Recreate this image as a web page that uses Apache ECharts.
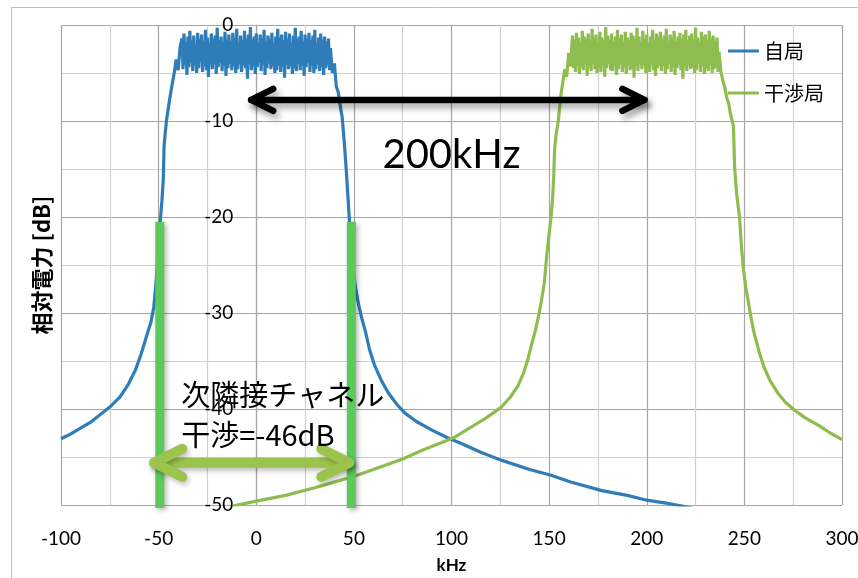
<!DOCTYPE html>
<html>
<head>
<meta charset="utf-8">
<script src="https://cdn.jsdelivr.net/npm/echarts@6/dist/echarts.min.js"></script>
<style>
  html, body { margin: 0; padding: 0; background: #fff; }
  #chart { width: 858px; height: 578px; }
</style>
</head>
<body>
<div id="chart"></div>
<script>
// Spectrum of the own station (自局), frequency in kHz and relative power in dB
const blueFreq = [
  -100, -95, -90, -85, -80, -75, -70, -66, -62, -59,
  -56, -54, -52.5, -51.5, -50.5, -49.7, -49, -48.3, -47.6, -47.2,
  -46.6, -46, -45, -44, -43, -42, -41, -40, -39,
  -38, -37.5, -37, -36.5, -36, -35.5, -35, -34.5, -34, -33.5,
  -33, -32.5, -32, -31.5, -31, -30.5, -30, -29.5, -29, -28.5,
  -28, -27.5, -27, -26.5, -26, -25.5, -25, -24.5, -24, -23.5,
  -23, -22.5, -22, -21.5, -21, -20.5, -20, -19.5, -19, -18.5,
  -18, -17.5, -17, -16.5, -16, -15.5, -15, -14.5, -14, -13.5,
  -13, -12.5, -12, -11.5, -11, -10.5, -10, -9.5, -9, -8.5,
  -8, -7.5, -7, -6.5, -6, -5.5, -5, -4.5, -4, -3.5,
  -3, -2.5, -2, -1.5, -1, -0.5, 0, 0.5, 1, 1.5,
  2, 2.5, 3, 3.5, 4, 4.5, 5, 5.5, 6, 6.5,
  7, 7.5, 8, 8.5, 9, 9.5, 10, 10.5, 11, 11.5,
  12, 12.5, 13, 13.5, 14, 14.5, 15, 15.5, 16, 16.5,
  17, 17.5, 18, 18.5, 19, 19.5, 20, 20.5, 21, 21.5,
  22, 22.5, 23, 23.5, 24, 24.5, 25, 25.5, 26, 26.5,
  27, 27.5, 28, 28.5, 29, 29.5, 30, 30.5, 31, 31.5,
  32, 32.5, 33, 33.5, 34, 34.5, 35, 35.5, 36, 36.5,
  37, 37.5,
  38, 39, 40, 41, 42, 43, 44, 45, 46, 47,
  47.6, 48.3, 49, 50, 51.2, 52.5, 54, 56, 58, 60.5,
  64, 67.6, 72, 76, 82, 90, 98, 105, 115, 125,
  140, 151, 161, 177, 190, 200, 210, 218, 225
];
const blueLevel = [
  -43.1, -42.6, -42.0, -41.4, -40.6, -39.8, -38.8, -37.6, -36.0, -34.3,
  -32.3, -31.0, -29.4, -27.3, -24.5, -21.7, -20.0, -18.3, -16.0, -12.6,
  -11.2, -10.0, -8.6, -7.3, -6.1, -5.0, -3.6, -4.7, -2.3,
  -1.4, -4.6, -0.9, -4.1, -1.8, -5.2, -1.2, -4.4, -0.6, -3.9,
  -1.6, -4.8, -1.1, -4.2, -2.0, -5.0, -0.8, -4.5, -1.5, -3.8,
  -1.0, -4.9, -1.7, -4.3, -0.5, -4.7, -1.3, -5.4, -1.9, -4.0,
  -0.9, -4.6, -1.4, -4.1, -1.1, -5.1, -0.3, -4.4, -1.6, -3.9,
  -1.2, -4.8, -1.8, -4.2, -0.7, -5.3, -1.5, -4.5, -1.0, -4.0,
  -1.7, -4.7, -0.8, -4.3, -1.3, -5.0, -0.4, -4.6, -1.9, -4.1,
  -1.1, -4.9, -1.6, -4.2, -0.6, -4.5, -1.4, -5.6, -1.0, -4.0,
  -0.2, -4.7, -1.5, -4.3, -1.2, -5.1, -0.9, -4.4, -1.8, -3.9,
  -1.0, -4.8, -1.4, -4.1, -0.5, -5.2, -1.7, -4.5, -1.1, -4.0,
  -1.5, -4.6, -0.8, -4.3, -1.9, -5.0, -1.2, -4.7, -0.4, -4.2,
  -1.3, -4.9, -1.0, -4.4, -1.6, -5.5, -0.7, -4.1, -1.4, -4.6,
  -0.9, -4.3, -1.8, -5.1, -1.1, -4.5, -0.3, -4.8, -1.5, -4.0,
  -1.2, -4.7, -0.6, -4.2, -1.7, -5.3, -1.0, -4.4, -1.4, -3.9,
  -0.8, -4.9, -1.6, -4.3, -1.1, -5.0, -0.5, -4.6, -1.9, -4.1,
  -1.3, -4.8, -0.9, -4.4, -1.5, -5.2, -1.2, -4.5, -1.7, -4.2,
  -1.4, -4.7,
  -2.4, -5.0, -4.0, -6.4, -7.0, -8.4, -9.6, -12.0, -14.8, -18.0,
  -20.0, -22.5, -24.3, -26.2, -27.8, -29.2, -30.5, -32.0, -33.8, -35.4,
  -37.0, -38.3, -39.5, -40.4, -41.3, -42.2, -43.0, -43.6, -44.5, -45.3,
  -46.3, -46.9, -47.6, -48.5, -49.0, -49.5, -49.8, -50.1, -50.4
];

// Spectrum of the interfering station (干渉局)
const greenFreq = [
  -12, 0, 15, 30, 48.7, 60, 75, 85, 95, 101,
  110, 118, 125.5, 130, 134, 137, 139, 141, 143, 144.5,
  146, 147.5, 148.8, 150, 151, 151.8, 152.4, 152.8, 153.5, 154.7,
  156, 157, 158, 159, 160, 161,
  162, 162.5, 163, 163.5, 164, 164.5, 165, 165.5, 166, 166.5,
  167, 167.5, 168, 168.5, 169, 169.5, 170, 170.5, 171, 171.5,
  172, 172.5, 173, 173.5, 174, 174.5, 175, 175.5, 176, 176.5,
  177, 177.5, 178, 178.5, 179, 179.5, 180, 180.5, 181, 181.5,
  182, 182.5, 183, 183.5, 184, 184.5, 185, 185.5, 186, 186.5,
  187, 187.5, 188, 188.5, 189, 189.5, 190, 190.5, 191, 191.5,
  192, 192.5, 193, 193.5, 194, 194.5, 195, 195.5, 196, 196.5,
  197, 197.5, 198, 198.5, 199, 199.5, 200, 200.5, 201, 201.5,
  202, 202.5, 203, 203.5, 204, 204.5, 205, 205.5, 206, 206.5,
  207, 207.5, 208, 208.5, 209, 209.5, 210, 210.5, 211, 211.5,
  212, 212.5, 213, 213.5, 214, 214.5, 215, 215.5, 216, 216.5,
  217, 217.5, 218, 218.5, 219, 219.5, 220, 220.5, 221, 221.5,
  222, 222.5, 223, 223.5, 224, 224.5, 225, 225.5, 226, 226.5,
  227, 227.5, 228, 228.5, 229, 229.5, 230, 230.5, 231, 231.5,
  232, 232.5, 233, 233.5, 234, 234.5, 235, 235.5, 236, 236.5,
  237, 238, 239, 240, 241, 242, 243, 244.4, 245, 246,
  247.5, 248.4, 249.4, 250.6, 252, 253.5, 255, 257.5, 260, 263,
  267, 271, 275.6, 281, 288, 294, 300
];
const greenLevel = [
  -50.1, -49.6, -49.0, -48.2, -47.1, -46.3, -45.2, -44.3, -43.5, -43.0,
  -41.9, -40.9, -39.8, -38.8, -37.6, -36.2, -34.9, -33.3, -31.8, -30.4,
  -28.8, -26.9, -24.0, -21.7, -20.0, -18.0, -15.5, -13.0, -11.5, -10.0,
  -7.3, -6.0, -4.6, -5.4, -2.9, -4.3,
  -1.1, -4.5, -1.6, -4.9, -0.8, -4.2, -1.3, -5.1, -1.9, -4.4,
  -0.6, -4.7, -1.2, -4.0, -1.5, -5.3, -0.9, -4.3, -1.7, -4.8,
  -0.4, -4.1, -1.4, -4.6, -1.0, -5.0, -1.8, -4.4, -0.7, -4.9,
  -1.3, -4.2, -1.6, -5.4, -0.2, -4.5, -1.1, -4.0, -1.5, -4.7,
  -0.9, -4.8, -1.7, -4.3, -1.2, -5.2, -0.5, -4.6, -1.4, -4.1,
  -1.0, -4.9, -1.8, -4.4, -0.7, -5.1, -1.3, -4.2, -1.6, -4.7,
  -0.8, -4.5, -1.1, -5.5, -1.5, -4.3, -0.3, -4.8, -1.2, -4.0,
  -1.7, -4.6, -0.6, -4.2, -1.4, -5.0, -1.0, -4.4, -1.9, -4.9,
  -1.2, -4.1, -0.5, -4.7, -1.6, -5.3, -0.9, -4.5, -1.3, -4.2,
  -0.7, -4.8, -1.5, -4.3, -1.1, -5.1, -0.4, -4.6, -1.8, -4.0,
  -1.0, -4.9, -1.3, -4.4, -0.6, -5.2, -1.7, -4.5, -1.2, -4.1,
  -0.8, -4.7, -1.4, -5.6, -1.0, -4.3, -0.5, -4.8, -1.6, -4.2,
  -1.1, -4.6, -0.9, -4.4, -1.5, -5.0, -0.3, -4.7, -1.3, -4.0,
  -1.8, -4.9, -0.7, -4.3, -1.2, -5.1, -1.0, -4.5, -1.6, -4.8,
  -0.6, -4.2, -1.4, -5.0, -1.1, -4.6, -1.7, -4.4, -1.3, -4.9,
  -2.8, -4.9, -5.8, -6.5, -7.6, -8.2, -9.4, -10.5, -14.8, -17.5,
  -20.0, -22.8, -25.2, -27.2, -28.8, -30.6, -32.1, -34.0, -35.6, -37.0,
  -38.3, -39.3, -40.1, -40.9, -41.7, -42.5, -43.2
];

// Annotation anchors (kHz, dB)
const channelEdges = [-49.4, 48.7];       // adjacent-channel edges at -20 dB
const edgeTop = -20.5, edgeBottom = -50.3;
const spacingArrow = { from: -2.6, to: 198.8, level: -7.8, label: '200kHz', labelAt: [100, -13.5] };
const interfArrow = { from: -52.3, to: 47.6, level: -45.6 };
const interfLabel = ['次隣接チャネル', '干渉=-46dB'];
const interfLabelAt = [-38.4, -38.5, -42.7];   // x, first line y, second line y

const zip = (xs, ys) => xs.map((x, i) => [x, ys[i]]);

const BLUE = '#2E7DB8';
const GREEN = '#8FBC4F';
const MAJOR = '#A8A5A2';
const MINOR = '#D3CFCB';
const LATIN = 'Lato, "Noto Sans", sans-serif';
const CJK = '"Noto Sans CJK JP", sans-serif';

function arrowShapes(p1, p2, armX, armY, color, width, shadow) {
  const style = {
    stroke: color, lineWidth: width, lineCap: 'round', lineJoin: 'round', fill: null,
    shadowBlur: shadow.blur, shadowColor: shadow.color,
    shadowOffsetX: shadow.dx, shadowOffsetY: shadow.dy
  };
  return [
    { type: 'line', shape: { x1: p1[0], y1: p1[1], x2: p2[0], y2: p2[1] }, style },
    { type: 'polyline', shape: { points: [[p1[0] + armX, p1[1] - armY], p1, [p1[0] + armX, p1[1] + armY]] }, style },
    { type: 'polyline', shape: { points: [[p2[0] - armX, p2[1] - armY], p2, [p2[0] - armX, p2[1] + armY]] }, style }
  ];
}

function renderAnnotations(params, api) {
  const children = [];
  // green channel-edge bars
  channelEdges.forEach(f => {
    const a = api.coord([f, edgeTop]);
    const b = api.coord([f, edgeBottom]);
    children.push({
      type: 'line',
      shape: { x1: a[0], y1: a[1], x2: b[0], y2: b[1] },
      style: { stroke: '#5CC95C', lineWidth: 9, shadowBlur: 5, shadowColor: 'rgba(0,0,0,0.3)', shadowOffsetX: 2, shadowOffsetY: 2 }
    });
  });
  // 200 kHz spacing arrow
  children.push(...arrowShapes(
    api.coord([spacingArrow.from, spacingArrow.level]),
    api.coord([spacingArrow.to, spacingArrow.level]),
    22, 11, '#000', 6.5,
    { blur: 6, color: 'rgba(0,0,0,0.35)', dx: 3, dy: 5 }
  ));
  const lp = api.coord(spacingArrow.labelAt);
  children.push({
    type: 'text', x: lp[0], y: lp[1],
    style: { text: spacingArrow.label, font: '40px ' + LATIN, fill: '#000', align: 'center', verticalAlign: 'middle', textAlign: 'center', textVerticalAlign: 'middle' }
  });
  // adjacent-channel interference arrow
  children.push(...arrowShapes(
    api.coord([interfArrow.from, interfArrow.level]),
    api.coord([interfArrow.to, interfArrow.level]),
    28, 14, '#9CC44C', 10,
    { blur: 5, color: 'rgba(0,0,0,0.25)', dx: 2, dy: 3 }
  ));
  interfLabel.forEach((t, i) => {
    const p = api.coord([interfLabelAt[0], interfLabelAt[i + 1]]);
    children.push({
      type: 'text', x: p[0], y: p[1],
      style: { text: t, font: '29px ' + CJK, fill: '#000', align: 'left', verticalAlign: 'middle', textAlign: 'left', textVerticalAlign: 'middle' }
    });
  });
  return { type: 'group', children };
}

const chart = echarts.init(document.getElementById('chart'), null, { renderer: 'canvas' });
chart.setOption({
  backgroundColor: '#fff',
  animation: false,
  graphic: [{
    type: 'rect', z: -10, silent: true,
    shape: { x: 11.5, y: 7.5, width: 900, height: 600 },
    style: { fill: null, stroke: '#BEBEBE', lineWidth: 1 }
  }],
  grid: { left: 61, right: 16, top: 25, bottom: 73, containLabel: false, outerBoundsMode: 'none' },
  legend: {
    data: ['自局', '干渉局'],
    orient: 'vertical',
    left: 723, top: 36,
    icon: 'rect', itemWidth: 31, itemHeight: 3, itemGap: 22, itemTextGap: 3,
    textStyle: { fontFamily: CJK, fontSize: 20, color: '#000' }
  },
  xAxis: {
    type: 'value', min: -100, max: 300, interval: 50,
    name: 'kHz', nameLocation: 'middle', nameGap: 52,
    nameTextStyle: { fontFamily: LATIN, fontWeight: 'bold', fontSize: 17, color: '#000' },
    axisLine: { show: false, onZero: false },
    axisTick: { show: false },
    axisLabel: { fontFamily: LATIN, fontSize: 19, color: '#000', margin: 24 },
    splitLine: { show: true, lineStyle: { color: MAJOR, width: 1.2 } },
    minorTick: { show: false, splitNumber: 2 },
    minorSplitLine: { show: true, lineStyle: { color: MINOR, width: 1.2 } }
  },
  yAxis: {
    type: 'value', min: -50, max: 0, interval: 10,
    name: '相対電力 [dB]', nameLocation: 'middle', nameGap: 204, nameRotate: 90,
    nameTextStyle: { fontFamily: CJK, fontWeight: 'bold', fontSize: 22, color: '#000' },
    axisLine: { show: true, onZero: true, lineStyle: { color: MAJOR, width: 1.2 } },
    axisTick: { show: false },
    axisLabel: { fontFamily: LATIN, fontSize: 19, color: '#000', margin: 23 },
    splitLine: { show: true, lineStyle: { color: MAJOR, width: 1.2 } },
    minorTick: { show: false, splitNumber: 2 },
    minorSplitLine: { show: true, lineStyle: { color: MINOR, width: 1.2 } }
  },
  series: [
    {
      name: '自局', type: 'line', data: zip(blueFreq, blueLevel),
      showSymbol: false, symbol: 'none', z: 3,
      lineStyle: { color: BLUE, width: 3.2 }, itemStyle: { color: BLUE }
    },
    {
      name: '干渉局', type: 'line', data: zip(greenFreq, greenLevel),
      showSymbol: false, symbol: 'none', z: 3,
      lineStyle: { color: GREEN, width: 3.2 }, itemStyle: { color: GREEN }
    },
    {
      type: 'custom', data: [[0, 0]], clip: false, silent: true, z: 10,
      renderItem: renderAnnotations
    }
  ]
});

// Place the dB axis (labels and title) on the 0 kHz line
const xZero = chart.convertToPixel({ xAxisIndex: 0 }, 0);
const xLeft = chart.convertToPixel({ xAxisIndex: 0 }, -100);
chart.setOption({ yAxis: { offset: -(xZero - xLeft) } });
</script>
</body>
</html>
